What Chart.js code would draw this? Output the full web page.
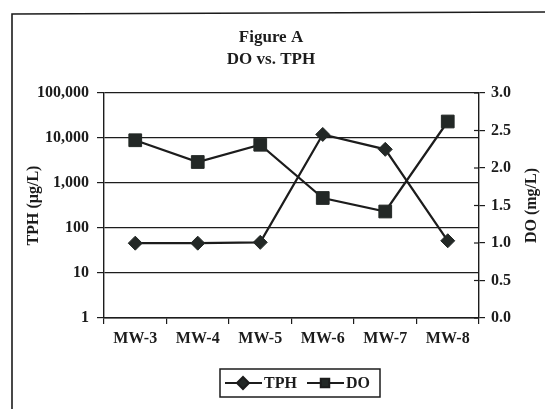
<!DOCTYPE html>
<html>
<head>
<meta charset="utf-8">
<script src="https://cdn.jsdelivr.net/npm/chart.js@4/dist/chart.umd.min.js"></script>
<style>
  html, body { margin: 0; padding: 0; background: #fff; }
  #wrap { width: 545px; height: 409px; }
</style>
</head>
<body>
<div id="wrap"><canvas id="chart" width="545" height="409"></canvas></div>
<script>
// data
const wells = ["MW-3", "MW-4", "MW-5", "MW-6", "MW-7", "MW-8"];
const tphValues = [46, 46, 48, 12000, 5600, 52];
const doValues = [2.37, 2.08, 2.31, 1.60, 1.42, 2.62];
const tphTicks = [1, 10, 100, 1000, 10000, 100000];
const doTicks = [0, 0.5, 1.0, 1.5, 2.0, 2.5, 3.0];

const serif = "'Liberation Serif', 'Times New Roman', serif";
const ink = "#1c1c1c";
const markerFill = "#232826";

// frame, titles, right axis label and legend
const decorations = {
    id: "decorations",
    beforeDraw(chart) {
        const ctx = chart.ctx;
        ctx.save();
        ctx.fillStyle = "#fff";
        ctx.fillRect(0, 0, chart.width, chart.height);
        ctx.strokeStyle = ink;
        ctx.lineWidth = 1.6;
        ctx.beginPath();
        ctx.moveTo(12, 410);
        ctx.lineTo(12, 14);
        ctx.lineTo(546, 12);
        ctx.stroke();
        ctx.restore();
    },
    afterDraw(chart) {
        const ctx = chart.ctx;
        const right = chart.scales.y1;
        ctx.save();
        ctx.fillStyle = ink;
        ctx.textAlign = "center";
        ctx.textBaseline = "middle";
        ctx.font = "bold 17px " + serif;
        ctx.fillText("Figure A", 271, 38);
        ctx.fillText("DO vs. TPH", 271, 60);

        // inner half of the right axis ticks
        ctx.strokeStyle = ink;
        ctx.lineWidth = 1.2;
        doTicks.forEach(v => {
            const py = right.getPixelForValue(v);
            ctx.beginPath();
            ctx.moveTo(right.left - 5, py);
            ctx.lineTo(right.left, py);
            ctx.stroke();
        });

        // right axis title, reading bottom to top
        ctx.save();
        ctx.translate(532, (chart.chartArea.top + chart.chartArea.bottom) / 2);
        ctx.rotate(-Math.PI / 2);
        ctx.font = "bold 16px " + serif;
        ctx.fillText("DO (mg/L)", 0, 0);
        ctx.restore();

        // legend
        const bx = 220, by = 369, bw = 160, bh = 28;
        ctx.lineWidth = 1.5;
        ctx.strokeRect(bx, by, bw, bh);
        const cy = by + bh / 2;
        ctx.font = "bold 16px " + serif;
        ctx.textAlign = "left";
        const items = [
            { x: 225, label: "TPH", style: "rectRot" },
            { x: 307, label: "DO", style: "rect" }
        ];
        items.forEach(it => {
            ctx.strokeStyle = ink;
            ctx.lineWidth = 2;
            ctx.beginPath();
            ctx.moveTo(it.x, cy);
            ctx.lineTo(it.x + 37, cy);
            ctx.stroke();
            ctx.fillStyle = markerFill;
            Chart.helpers.drawPoint(ctx, {
                pointStyle: it.style,
                radius: 6,
                borderWidth: 1
            }, it.x + 18, cy);
            ctx.fillStyle = ink;
            ctx.fillText(it.label, it.x + 39, cy + 1);
        });
        ctx.restore();
    }
};

new Chart(document.getElementById("chart"), {
    type: "line",
    data: {
        labels: wells,
        datasets: [
            {
                label: "TPH",
                data: tphValues,
                yAxisID: "y",
                borderColor: ink,
                borderWidth: 2.2,
                backgroundColor: markerFill,
                pointStyle: "rectRot",
                pointRadius: 7,
                pointBorderColor: markerFill,
                pointBorderWidth: 1,
                tension: 0
            },
            {
                label: "DO",
                data: doValues,
                yAxisID: "y1",
                borderColor: ink,
                borderWidth: 2.2,
                backgroundColor: markerFill,
                pointStyle: "rect",
                pointRadius: 9,
                pointBorderColor: markerFill,
                pointBorderWidth: 1,
                tension: 0
            }
        ]
    },
    options: {
        responsive: false,
        animation: false,
        layout: { padding: { top: 93, left: 0, right: 0, bottom: 0 } },
        plugins: {
            legend: { display: false },
            title: { display: false },
            tooltip: { enabled: false }
        },
        scales: {
            x: {
                type: "category",
                offset: true,
                grid: { offset: true, drawOnChartArea: false, tickLength: 6, color: ink, lineWidth: 1.2 },
                border: { color: ink, width: 1.4 },
                ticks: { color: ink, font: { family: serif, size: 16, weight: "bold" }, padding: 5 },
                afterFit(scale) { scale.height = 91; }
            },
            y: {
                type: "logarithmic",
                position: "left",
                min: 1,
                max: 100000,
                afterBuildTicks(scale) {
                    scale.ticks = tphTicks.map(v => ({ value: v }));
                },
                grid: { color: ink, lineWidth: 1.2, tickLength: 7 },
                border: { color: ink, width: 1.4 },
                ticks: {
                    color: ink,
                    font: { family: serif, size: 16, weight: "bold" },
                    padding: 8,
                    callback: v => Number(v).toLocaleString("en-US")
                },
                title: {
                    display: true,
                    text: "TPH (µg/L)",
                    color: ink,
                    font: { family: serif, size: 16, weight: "bold" },
                    padding: { top: 24, bottom: 0 }
                },
                afterFit(scale) { scale.width = 104; }
            },
            y1: {
                type: "linear",
                position: "right",
                min: 0,
                max: 3,
                afterBuildTicks(scale) {
                    scale.ticks = doTicks.map(v => ({ value: v }));
                },
                grid: { drawOnChartArea: false, color: ink, lineWidth: 1.2, tickLength: 6 },
                border: { color: ink, width: 1.4 },
                ticks: {
                    color: ink,
                    font: { family: serif, size: 16, weight: "bold" },
                    padding: 6,
                    callback: v => Number(v).toFixed(1)
                },
                afterFit(scale) { scale.width = 66; }
            }
        }
    },
    plugins: [decorations]
});
</script>
</body>
</html>
